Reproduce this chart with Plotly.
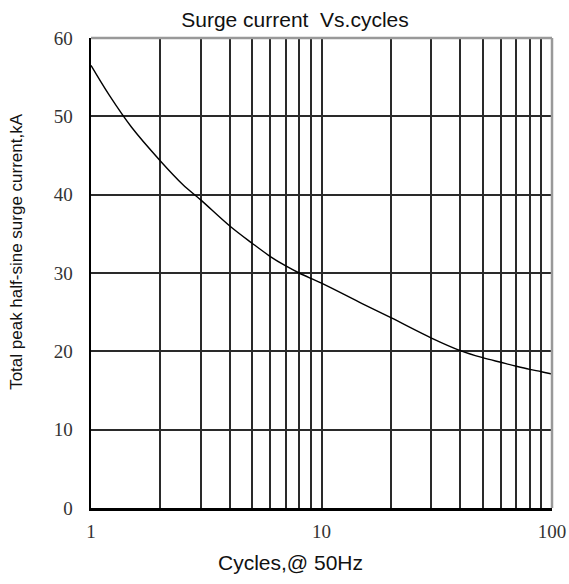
import plotly.graph_objects as go

cycles = [1, 1.2, 1.5, 2, 2.5, 3, 4, 5, 6, 7, 8, 10, 15, 20, 30, 40, 50, 60, 70, 80, 90, 100]
current_ka = [56.5, 52.7, 48.6, 44.3, 41.3, 39.3, 36.0, 33.8, 32.1, 30.9, 30.0, 28.7, 26.1, 24.3, 21.7, 20.1, 19.2, 18.6, 18.1, 17.7, 17.4, 17.1]

x_grid = [1, 2, 3, 4, 5, 6, 7, 8, 9, 10, 20, 30, 40, 50, 60, 70, 80, 90, 100]
x_labels = {1: "1", 10: "10", 100: "100"}
y_ticks = [0, 10, 20, 30, 40, 50, 60]

title_text = "Surge current&nbsp; Vs.cycles"
x_title = "Cycles,@ 50Hz"
y_title = "Total peak half-sine surge current,kA"

fig = go.Figure()
fig.add_trace(go.Scatter(x=cycles, y=current_ka, mode="lines",
                         line=dict(color="black", width=1.4, shape="spline", smoothing=1.0),
                         showlegend=False, hoverinfo="skip"))

tick_font = dict(family="Liberation Serif", size=19, color="#333")
fig.update_xaxes(type="log", range=[0, 2], tickvals=x_grid,
                 ticktext=[x_labels.get(v, "") for v in x_grid],
                 showgrid=True, gridcolor="#2a2a2a", gridwidth=2,
                 showline=True, linecolor="black", linewidth=2.5,
                 ticks="", tickfont=tick_font, ticklabelstandoff=5, zeroline=False,
                 automargin=False, ticklabeloverflow="allow")
fig.update_yaxes(range=[0, 60], tickvals=y_ticks,
                 showgrid=True, gridcolor="#2a2a2a", gridwidth=2,
                 showline=True, linecolor="black", linewidth=2.5,
                 ticks="", tickfont=tick_font, ticklabelstandoff=12, zeroline=False,
                 automargin=False)

# gray top/right border
fig.add_shape(type="line", xref="paper", yref="paper", x0=0, x1=1, y0=1, y1=1,
              line=dict(color="#999", width=2.5), layer="above")
fig.add_shape(type="line", xref="paper", yref="paper", x0=1, x1=1, y0=0, y1=1,
              line=dict(color="#999", width=2.5), layer="above")

fig.add_annotation(text=x_title, xref="paper", yref="paper", x=0.433, y=-0.117,
                   showarrow=False, xanchor="center", yanchor="middle",
                   font=dict(family="Liberation Sans", size=21, color="#111"))
fig.add_annotation(text=y_title, xref="paper", yref="paper", x=-0.1605, y=0.545,
                   textangle=-90, showarrow=False, xanchor="center", yanchor="middle",
                   font=dict(family="Liberation Sans", size=17, color="#111"))

fig.update_layout(
    width=569, height=584,
    margin=dict(l=91, r=17, t=38, b=76),
    paper_bgcolor="white", plot_bgcolor="white",
    hovermode=False,
    title=dict(text=title_text, x=295/569, xref="container", xanchor="center",
               y=1 - 20/584, yref="container", yanchor="middle",
               font=dict(family="Liberation Sans", size=21, color="#111")),
)

fig.write_html("out.html", config={"displayModeBar": False, "staticPlot": True},
               post_script="document.body.style.margin='0';document.body.style.overflow='hidden';")
